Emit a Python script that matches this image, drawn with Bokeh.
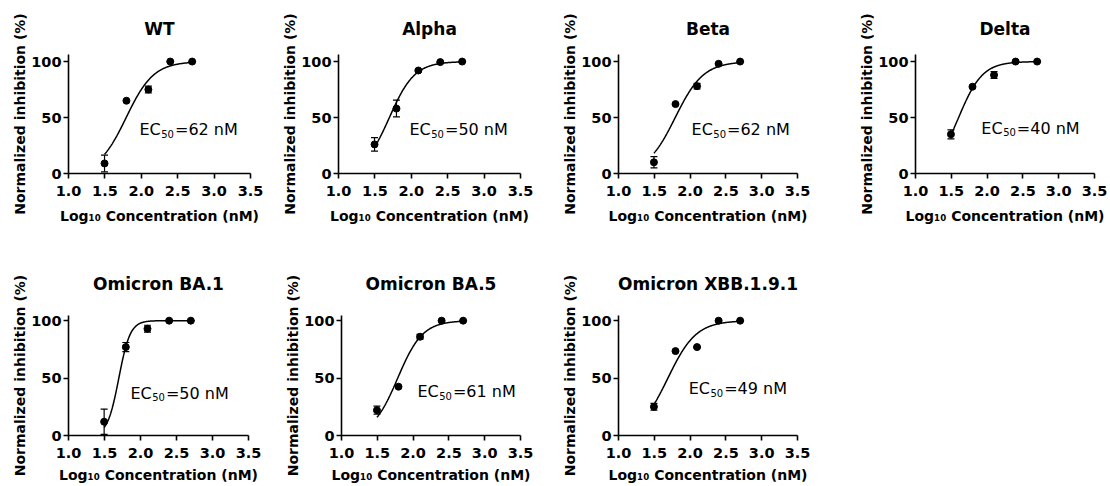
import numpy as np
from bokeh.plotting import figure
from bokeh.models import ColumnDataSource, Whisker, TeeHead, FixedTicker, PrintfTickFormatter, Range1d
from bokeh.layouts import column, row
from bokeh.core.properties import value
from bokeh.embed import file_html
from bokeh.resources import INLINE

# Log10 of the antibody concentrations (nM): 31.25, 62.5, 125, 250, 500
log_conc = [1.495, 1.796, 2.097, 2.398, 2.699]

variants = ["WT", "Alpha", "Beta", "Delta",
            "Omicron BA.1", "Omicron BA.5", "Omicron XBB.1.9.1"]

# Mean normalized inhibition (%) and SD at each concentration
inhib_wt = [9, 65, 75, 100, 100]
sd_wt = [7.5, 1, 3, 0.5, 0]
inhib_alpha = [26, 58, 92, 99.5, 100]
sd_alpha = [6, 7.5, 1, 0.5, 0]
inhib_beta = [10, 62, 78, 98, 100]
sd_beta = [5, 1, 2.5, 0.5, 0]
inhib_delta = [35, 77.5, 88, 100, 100]
sd_delta = [4, 1, 3, 0.5, 0]
inhib_ba1 = [12, 77, 93, 100, 100]
sd_ba1 = [11, 4, 3, 0.5, 0]
inhib_ba5 = [22, 42.5, 86, 100, 100]
sd_ba5 = [3.5, 0.5, 2, 0.5, 0]
inhib_xbb = [25, 73.5, 77, 100, 100]
sd_xbb = [3, 0.5, 0.5, 0.5, 0]

# Four-parameter logistic fit: EC50 (nM) and Hill slope per variant
ec50_nm = [62, 50, 62, 40, 50, 61, 49]
hill_slope = [2.3, 2.5, 2.2, 2.6, 5.5, 2.5, 2.2]
fit_bottom = 0.0
fit_top = 100.0

x_ticks = [1.0, 1.5, 2.0, 2.5, 3.0, 3.5]
y_ticks = [0, 50, 100]

inhibition = [inhib_wt, inhib_alpha, inhib_beta, inhib_delta, inhib_ba1, inhib_ba5, inhib_xbb]
errors = [sd_wt, sd_alpha, sd_beta, sd_delta, sd_ba1, sd_ba5, sd_xbb]

# Panel geometry (pixels): width, left border, right border, row index
panel_width = [270, 275, 275, 290, 270, 275, 275]
border_left = [68, 68, 73, 95, 68, 71, 73]
border_right = [20, 25, 23, 16, 22, 25, 23]
panel_row = [0, 0, 0, 0, 1, 1, 1]
row_top = [53, 72]
row_bottom = [70, 51]
row_ymax = [106.3, 104.5]
row_xlabel_standoff = [9, 6]
# Heading placement per row: gap kept between the heading and the plotting area
row_title_standoff = [32, 44]
# Where the EC50 annotation sits in each panel (data coordinates, text baseline)
label_pos = [(1.975, 39.0), (1.975, 39.0), (2.02, 39.3), (1.92, 40.3),
             (1.86, 37.0), (2.06, 38.0), (1.98, 40.5)]

BOLD_FONT = "DejaVu Sans"
TEXT_FONT = "DejaVu Sans"
LABEL_SIZE = 16.0
SUB_SIZE = 10.0


def make_panel(i):
    r = panel_row[i]
    p = figure(width=panel_width[i], height=243,
               x_range=Range1d(1.0, 3.5), y_range=Range1d(0, row_ymax[r]),
               min_border_left=border_left[i], min_border_right=border_right[i],
               min_border_top=row_top[r], min_border_bottom=row_bottom[r],
               output_backend="svg", toolbar_location=None,
               title=variants[i])
    p.outline_line_color = None
    p.xgrid.visible = False
    p.ygrid.visible = False
    p.background_fill_color = "white"
    p.border_fill_color = "white"

    p.title.text_font = BOLD_FONT
    p.title.text_font_style = "bold"
    p.title.text_font_size = "17px"
    p.title.align = "center"
    p.title.text_color = "black"
    p.title.vertical_align = "bottom"
    p.title.standoff = row_title_standoff[r]

    for ax in (p.xaxis[0], p.yaxis[0]):
        ax.axis_line_color = "black"
        ax.axis_line_width = 1.6
        ax.major_tick_line_color = "black"
        ax.major_tick_line_width = 1.6
        ax.major_tick_out = 5
        ax.major_tick_in = 0
        ax.minor_tick_line_color = None
        ax.major_label_text_font = BOLD_FONT
        ax.major_label_text_font_style = "bold"
        ax.major_label_text_font_size = "14.5px"
        ax.major_label_text_color = "black"
        ax.axis_label_text_font = BOLD_FONT
        ax.axis_label_text_font_style = "bold"
        ax.axis_label_text_font_size = "14px"
        ax.axis_label_text_color = "black"

    p.xaxis.ticker = FixedTicker(ticks=x_ticks)
    p.xaxis.formatter = PrintfTickFormatter(format="%.1f")
    p.xaxis.axis_label = "Log\u2081\u2080 Concentration (nM)"
    p.xaxis.major_label_standoff = 7
    p.xaxis.axis_label_standoff = row_xlabel_standoff[r]

    p.yaxis.ticker = FixedTicker(ticks=y_ticks)
    p.yaxis.axis_label = "Normalized inhibition (%)"
    p.yaxis.major_label_standoff = 2
    p.yaxis.axis_label_standoff = 0

    # fitted dose-response curve over the measured range
    xs = np.linspace(log_conc[0], log_conc[-1], 200)
    ys = fit_bottom + (fit_top - fit_bottom) / (1 + 10 ** ((np.log10(ec50_nm[i]) - xs) * hill_slope[i]))
    p.line(xs, ys, line_color="black", line_width=1.5)

    y = np.array(inhibition[i], dtype=float)
    e = np.array(errors[i], dtype=float)
    src = ColumnDataSource(dict(x=log_conc, y=y, lo=y - e, hi=y + e))
    p.add_layout(Whisker(base="x", upper="hi", lower="lo", source=src, dimension="height",
                         line_color="black", line_width=1.2,
                         upper_head=TeeHead(size=7, line_color="black", line_width=1.2),
                         lower_head=TeeHead(size=7, line_color="black", line_width=1.2)))
    p.scatter("x", "y", source=src, size=7, fill_color="black", line_color="black")

    # EC50 annotation: "EC", a lowered subscript "50", then "=NN nM"
    lx, ly = label_pos[i]
    ec_w = (0.632 + 0.698) * LABEL_SIZE
    sub_w = 2 * 0.636 * SUB_SIZE
    common = dict(text_color="black", text_align="left", text_baseline="alphabetic",
                  text_font=value(TEXT_FONT))
    p.text(x=[lx], y=[ly], text=["EC"], text_font_size="%.1fpx" % LABEL_SIZE, **common)
    p.text(x=[lx], y=[ly], text=["50"], text_font_size="%.1fpx" % SUB_SIZE,
           x_offset=ec_w + 0.5, y_offset=4, **common)
    p.text(x=[lx], y=[ly], text=["=%d nM" % ec50_nm[i]], text_font_size="%.1fpx" % LABEL_SIZE,
           x_offset=ec_w + sub_w + 1.5, **common)
    return p


panels = [make_panel(i) for i in range(len(variants))]
layout = column(row(*panels[:4]), row(*panels[4:]))

open("out.html", "w").write(file_html(layout, INLINE))
